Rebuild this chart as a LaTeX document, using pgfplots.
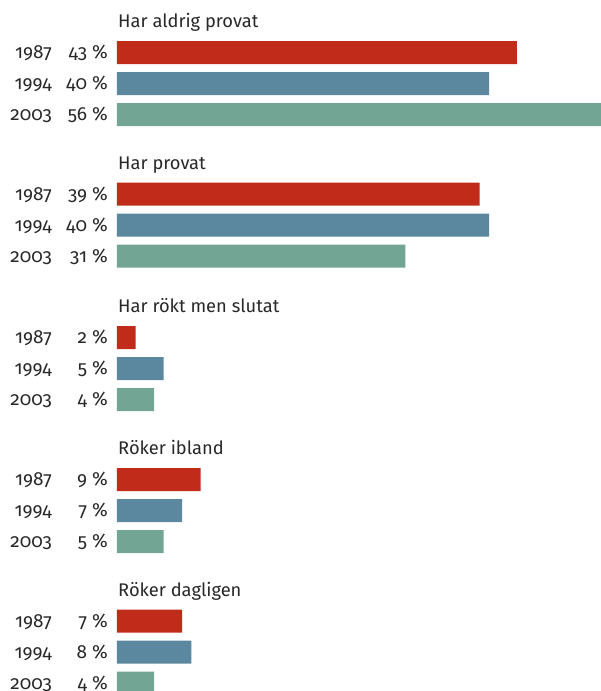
\documentclass[border=0pt]{standalone}
\usepackage{fontspec}
\setmainfont{Fira Sans}[Numbers=OldStyle]
\usepackage{pgfplots}
\pgfplotsset{compat=1.18}
\definecolor{cRed}{RGB}{192,43,26}
\definecolor{cBlue}{RGB}{91,135,159}
\definecolor{cGreen}{RGB}{114,165,147}
\definecolor{cText}{RGB}{40,40,40}
\tikzset{lbl/.style={anchor=base east, text=cText, inner sep=0pt, yshift=-6pt,
    font=\fontsize{19}{22}\selectfont}}
% year label, percent label at bar centre y (pixels from top)
\newcommand{\lab}[3]{%
  \node[lbl, xshift=-65pt] at (axis cs:0,#1) {#2};
  \node[lbl, xshift=-9pt] at (axis cs:0,#1) {#3~\%};}
\newcommand{\ttl}[2]{%
  \node[anchor=base west, text=cText, font=\fontsize{18.3}{21}\selectfont,
    inner sep=0pt, xshift=1pt, yshift=25pt] at (axis cs:0,#1) {#2};}

\begin{document}
\begin{tikzpicture}
\path[use as bounding box] (0,0) rectangle (601pt,691pt);
\begin{axis}[at={(117pt,0pt)}, anchor=south west, scale only axis,
  width=484pt, height=691pt, xmin=0, xmax=52.04, ymin=0, ymax=691,
  y dir=reverse, hide axis, clip mode=individual]
\addplot[xbar, bar width=23, bar shift=0pt, fill=cRed, draw=none]
  coordinates {(43,52.5) (39,194) (2,337.5) (9,479.5) (7,621)};
\addplot[xbar, bar width=23, bar shift=0pt, fill=cBlue, draw=none]
  coordinates {(40,83.5) (40,225) (5,368.5) (7,510.5) (8,652)};
\addplot[xbar, bar width=23, bar shift=0pt, fill=cGreen, draw=none]
  coordinates {(56,114.5) (31,256) (4,399.5) (5,541.5) (4,683)};

\ttl{52.5}{Har aldrig provat}
\lab{52.5}{1987}{43} \lab{83.5}{1994}{40} \lab{114.5}{2003}{56}
\ttl{194}{Har provat}
\lab{194}{1987}{39} \lab{225}{1994}{40} \lab{256}{2003}{31}
\ttl{337.5}{Har rökt men slutat}
\lab{337.5}{1987}{2} \lab{368.5}{1994}{5} \lab{399.5}{2003}{4}
\ttl{479.5}{Röker ibland}
\lab{479.5}{1987}{9} \lab{510.5}{1994}{7} \lab{541.5}{2003}{5}
\ttl{621}{Röker dagligen}
\lab{621}{1987}{7} \lab{652}{1994}{8} \lab{683}{2003}{4}
\end{axis}
\end{tikzpicture}
\end{document}
